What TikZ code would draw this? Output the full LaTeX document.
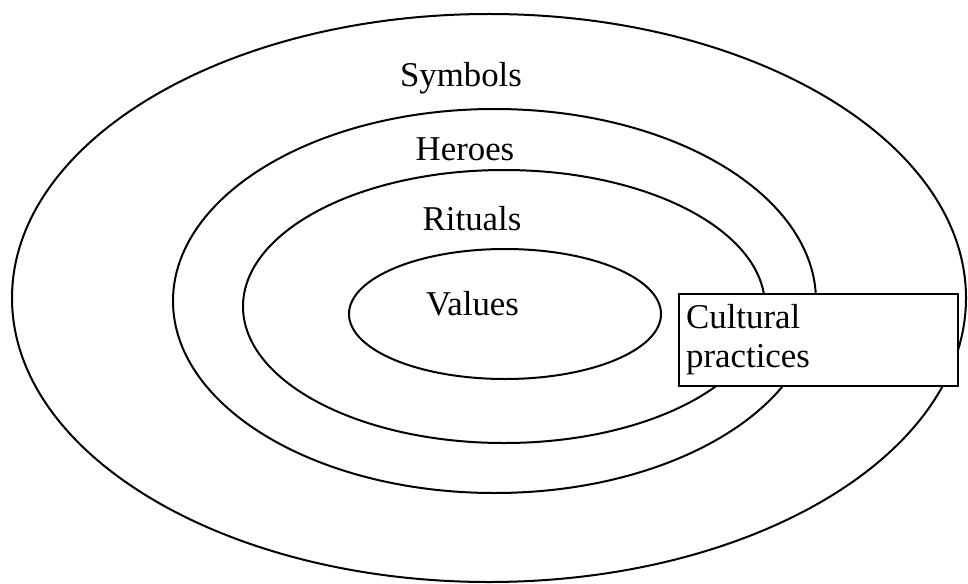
\documentclass[tikz,border=0pt]{standalone}
\usepackage{fontspec}
\setmainfont{Liberation Serif}
\begin{document}
\begin{tikzpicture}[x=1pt,y=-1pt,
  ring/.style={line width=2pt},
  lbl/.style={font=\fontsize{34.8}{39}\selectfont, inner sep=0pt, anchor=base},
  practicebox/.style={draw, line width=2pt, fill=white, anchor=north west,
    minimum width=279pt, minimum height=92pt, inner sep=0pt},
  boxtext/.style={font=\fontsize{34.8}{39}\selectfont, inner sep=0pt,
    anchor=base west, align=left}]
\useasboundingbox (0,0) rectangle (968,583);
\fill[white] (0,0) rectangle (968,583);
% nested ellipses
\draw[ring] (489,298) ellipse [x radius=477, y radius=284];
\draw[ring] (494.5,301) ellipse [x radius=321.5, y radius=192];
\draw[ring] (504,306.5) ellipse [x radius=261, y radius=136.5];
\draw[ring] (505,314) ellipse [x radius=156, y radius=65];
% labels
\node[lbl] (symbols) at (461,87) {Symbols};
\node[lbl] (heroes) at (465,160) {Heroes};
\node[lbl] (rituals) at (472,230) {Rituals};
\node[lbl] (values) at (472.5,315) {Values};
% box
\node[practicebox] (practices) at (678,292.5) {};
\node[boxtext] (cultural) at (686,328.5) {Cultural};
\node[boxtext] (practicestxt) at (686,367.5) {practices};
\end{tikzpicture}
\end{document}
